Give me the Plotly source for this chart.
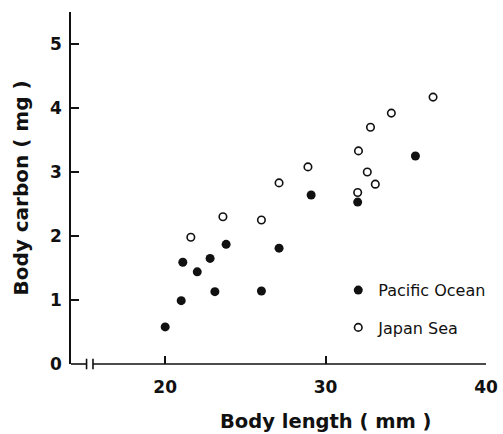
import plotly.graph_objects as go

pacific_len = [20.0, 21.0, 21.1, 22.0, 22.8, 23.1, 23.8, 26.0, 27.1, 29.1, 32.0, 35.6]
pacific_c = [0.58, 0.99, 1.59, 1.44, 1.65, 1.13, 1.87, 1.14, 1.81, 2.64, 2.53, 3.25]

japan_len = [21.6, 23.6, 26.0, 27.1, 28.9, 32.0, 32.05, 32.6, 33.1, 32.8, 34.1, 36.7]
japan_c = [1.98, 2.30, 2.25, 2.83, 3.08, 2.68, 3.33, 3.00, 2.81, 3.70, 3.92, 4.17]

x_ticks = [20, 30, 40]
y_ticks = [0, 1, 2, 3, 4, 5]

FONT = "DejaVu Sans"
INK = "#111111"

fig = go.Figure()
fig.add_trace(go.Scatter(
    x=pacific_len, y=pacific_c, mode="markers", name="Pacific Ocean",
    legendgroup="a",
    marker=dict(symbol="circle", size=9, color=INK),
))
fig.add_trace(go.Scatter(
    x=japan_len, y=japan_c, mode="markers", name="Japan Sea",
    legendgroup="b",
    marker=dict(symbol="circle-open", size=7.5, color=INK, line=dict(width=1.6)),
))

# x axis line with break marks
line_style = dict(color=INK, width=1.6)
fig.add_shape(type="line", xref="x", yref="paper", x0=14.13, x1=15.1, y0=0, y1=0, line=line_style)
fig.add_shape(type="line", xref="x", yref="paper", x0=15.5, x1=40, y0=0, y1=0, line=line_style)
fig.add_shape(type="line", xref="x", yref="paper", x0=15.1, x1=15.1, y0=-0.015, y1=0.015, line=line_style)
fig.add_shape(type="line", xref="x", yref="paper", x0=15.5, x1=15.5, y0=-0.015, y1=0.015, line=line_style)

# x-axis title (offset to the right, as in the original)
fig.add_annotation(
    text="Body length ( mm )", xref="paper", yref="paper",
    x=0.614, y=-0.162, xanchor="center", yanchor="middle", showarrow=False,
    font=dict(size=19.5, family=FONT, weight="bold", color=INK),
)

fig.update_layout(
    width=503, height=434,
    margin=dict(l=71, r=15, t=12, b=70),
    paper_bgcolor="white", plot_bgcolor="white",
    font=dict(family=FONT, color=INK),
    showlegend=True,
    legend=dict(
        x=0.644, y=0.258, xanchor="left", yanchor="top",
        bgcolor="rgba(0,0,0,0)",
        font=dict(size=16, family=FONT, color=INK),
        tracegroupgap=13.5, traceorder="grouped",
        itemwidth=30,
    ),
    xaxis=dict(
        range=[14.13, 40], tickvals=x_ticks, ticks="inside", ticklen=8,
        tickwidth=1.6, tickcolor=INK, automargin=False,
        showline=False, showgrid=False, zeroline=False,
        ticklabelstandoff=11,
        tickfont=dict(size=17, family=FONT, weight="bold"),
    ),
    yaxis=dict(
        range=[0, 5.5], tickvals=y_ticks, ticks="inside", ticklen=8,
        tickwidth=1.6, tickcolor=INK, automargin=False,
        showline=True, linecolor=INK, linewidth=1.6,
        showgrid=False, zeroline=False,
        ticklabelstandoff=4,
        tickfont=dict(size=17, family=FONT, weight="bold"),
        title=dict(text="Body carbon ( mg )", font=dict(size=20, family=FONT, weight="bold"), standoff=16),
    ),
)

fig.write_html(
    "out.html",
    config={"displayModeBar": False},
    post_script="document.body.style.margin='0';document.body.style.overflow='hidden';",
)
